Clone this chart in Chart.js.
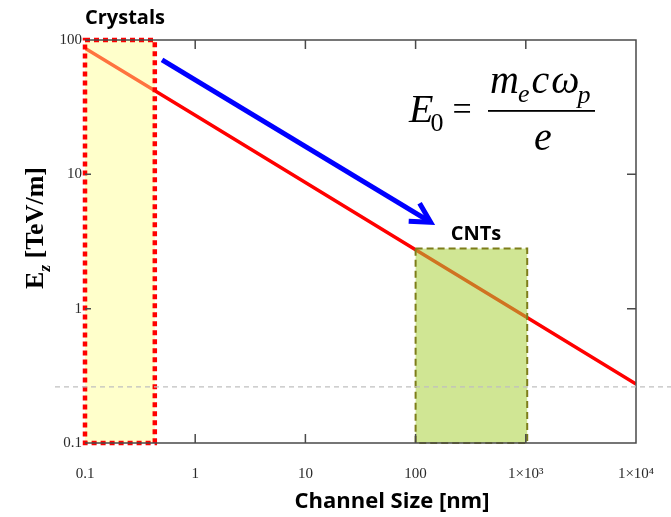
<!DOCTYPE html>
<html>
<head>
<meta charset="utf-8">
<script src="https://cdn.jsdelivr.net/npm/chart.js@4"></script>
<style>
  html, body { margin: 0; padding: 0; background: #fff; }
  #wrap { width: 671px; height: 517px; }
</style>
</head>
<body>
<div id="wrap"><canvas id="fieldChart"></canvas></div>
<script>
// channel size (nm) vs accelerating field Ez (TeV/m)
var channelSize = [0.1, 1, 10, 100, 1000, 10000];
var fieldTeV = [87, 27.5, 8.7, 2.75, 0.87, 0.275];

var xTicks = [0.1, 1, 10, 100, 1000, 10000];
var yTicks = [0.1, 1, 10, 100];

// highlighted regions [xFrom, xTo, yTop]
var crystalsBox = [0.1, 0.43, 100];
var cntBox = [100, 1030, 2.8];

// arrow start / end in data units
var arrowFrom = [0.5, 71];
var arrowTo = [137, 4.4];

var refLevel = 0.262;

var serif = '"Liberation Serif", "DejaVu Serif", serif';
var sans = '"Open Sans", "Liberation Sans", sans-serif';

function xLabel(v) {
  if (v == 1000) return '1×10³';
  if (v == 10000) return '1×10⁴';
  return String(v);
}

// draw text pieces one after another, returns end x
function run(ctx, parts, x) {
  parts.forEach(function (p) {
    ctx.font = p.font;
    ctx.fillText(p.t, x + (p.dx || 0), p.y);
    x += ctx.measureText(p.t).width + (p.dx || 0);
  });
  return x;
}

const decorPlugin = {
  id: 'decor',
  afterDatasetsDraw(chart) {
    const ctx = chart.ctx;
    const xs = chart.scales.x, ys = chart.scales.y;
    const a = chart.chartArea;

    // CNTs region
    let x1 = xs.getPixelForValue(cntBox[0]), x2 = xs.getPixelForValue(cntBox[1]);
    let yt = ys.getPixelForValue(cntBox[2]);
    ctx.save();
    ctx.fillStyle = 'rgba(170,210,60,0.55)';
    ctx.fillRect(x1, yt, x2 - x1, a.bottom - yt);
    ctx.strokeStyle = '#7d7d1a';
    ctx.lineWidth = 2;
    ctx.setLineDash([7, 4]);
    ctx.strokeRect(x1, yt, x2 - x1, a.bottom - yt);
    ctx.restore();

    // Crystals region
    x1 = xs.getPixelForValue(crystalsBox[0]); x2 = xs.getPixelForValue(crystalsBox[1]);
    yt = ys.getPixelForValue(crystalsBox[2]);
    ctx.save();
    ctx.fillStyle = 'rgba(255,255,140,0.45)';
    ctx.fillRect(x1, yt, x2 - x1, a.bottom - yt);
    ctx.strokeStyle = '#ff0000';
    ctx.lineWidth = 4.5;
    ctx.setLineDash([5, 4]);
    ctx.strokeRect(x1, yt, x2 - x1, a.bottom - yt);
    ctx.restore();

    // blue arrow
    const ax1 = xs.getPixelForValue(arrowFrom[0]), ay1 = ys.getPixelForValue(arrowFrom[1]);
    const ax2 = xs.getPixelForValue(arrowTo[0]), ay2 = ys.getPixelForValue(arrowTo[1]);
    const ang = Math.atan2(ay2 - ay1, ax2 - ax1);
    ctx.save();
    ctx.strokeStyle = '#0000ff';
    ctx.lineWidth = 5;
    ctx.beginPath();
    ctx.moveTo(ax1, ay1);
    ctx.lineTo(ax2 - 2 * Math.cos(ang), ay2 - 2 * Math.sin(ang));
    ctx.stroke();
    ctx.beginPath();
    ctx.moveTo(ax2 - 22 * Math.cos(ang - 0.5), ay2 - 22 * Math.sin(ang - 0.5));
    ctx.lineTo(ax2, ay2);
    ctx.lineTo(ax2 - 22 * Math.cos(ang + 0.5), ay2 - 22 * Math.sin(ang + 0.5));
    ctx.stroke();
    ctx.restore();
  },
  afterDraw(chart) {
    const ctx = chart.ctx;
    const xs = chart.scales.x, ys = chart.scales.y;
    const a = chart.chartArea;

    // frame + inner ticks
    ctx.save();
    ctx.strokeStyle = '#4a4a4a';
    ctx.lineWidth = 1.5;
    ctx.beginPath();
    ctx.moveTo(a.left, a.top); ctx.lineTo(a.right, a.top);
    ctx.lineTo(a.right, a.bottom); ctx.lineTo(a.left, a.bottom);
    ctx.stroke();
    ctx.beginPath();
    xTicks.slice(1, -1).forEach(function (v) {
      const px = xs.getPixelForValue(v);
      ctx.moveTo(px, a.bottom); ctx.lineTo(px, a.bottom - 9);
      ctx.moveTo(px, a.top); ctx.lineTo(px, a.top + 9);
    });
    yTicks.slice(1, -1).forEach(function (v) {
      const py = ys.getPixelForValue(v);
      ctx.moveTo(a.right, py); ctx.lineTo(a.right - 9, py);
      ctx.moveTo(a.left, py); ctx.lineTo(a.left + 6, py);
    });
    ctx.stroke();

    // reference level dashed line
    const ry = ys.getPixelForValue(refLevel);
    ctx.strokeStyle = '#c0c0c0';
    ctx.lineWidth = 1.2;
    ctx.setLineDash([5, 4]);
    ctx.beginPath();
    ctx.moveTo(55, ry); ctx.lineTo(671, ry);
    ctx.stroke();
    ctx.setLineDash([]);

    // labels
    ctx.fillStyle = '#000';
    ctx.textBaseline = 'alphabetic';
    ctx.textAlign = 'center';
    ctx.font = 'bold 20px ' + sans;
    ctx.fillText('Crystals', 125, 24);
    ctx.fillText('CNTs', 476, 240);
    ctx.font = 'bold 22px ' + sans;
    ctx.fillText('Channel Size [nm]', 392, 508);

    // y axis title
    ctx.save();
    ctx.translate(43, 228);
    ctx.rotate(-Math.PI / 2);
    ctx.textAlign = 'left';
    const big = 'bold 26px ' + serif, sub = 'bold italic 17px ' + serif;
    ctx.font = big;
    const wE = ctx.measureText('E').width, wR = ctx.measureText(' [TeV/m]').width;
    ctx.font = sub;
    const wz = ctx.measureText('z').width;
    run(ctx, [
      { t: 'E', font: big, y: 0 },
      { t: 'z', font: sub, y: 7 },
      { t: ' [TeV/m]', font: big, y: 0 }
    ], -(wE + wz + wR) / 2);
    ctx.restore();

    // formula E0 = me c wp / e
    ctx.textAlign = 'left';
    const it = 'italic 40px ' + serif, itSub = 'italic 26px ' + serif;
    run(ctx, [
      { t: 'E', font: it, y: 122 },
      { t: '0', font: '26px ' + serif, y: 131, dx: -3 },
      { t: '=', font: '34px ' + serif, y: 120, dx: 9 }
    ], 409);
    ctx.fillRect(488, 110, 107, 1.8);
    run(ctx, [
      { t: 'm', font: it, y: 93 },
      { t: 'e', font: itSub, y: 102, dx: -1 },
      { t: 'c', font: it, y: 93, dx: 2 },
      { t: 'ω', font: it, y: 93, dx: 2 },
      { t: 'p', font: itSub, y: 103, dx: -2 }
    ], 490);
    ctx.font = it;
    ctx.fillText('e', 534, 150);
    ctx.restore();
  }
};

const cfg = {
  type: 'line',
  data: {
    datasets: [{
      data: channelSize.map(function (c, i) { return { x: c, y: fieldTeV[i] }; }),
      borderColor: '#ff0000',
      borderWidth: 3.5,
      pointRadius: 0,
      fill: false,
      tension: 0
    }]
  },
  options: {
    responsive: false,
    animation: false,
    devicePixelRatio: 1,
    layout: { padding: { left: 0, right: 35, top: 40, bottom: 0 } },
    plugins: {
      legend: { display: false },
      tooltip: { enabled: false }
    },
    scales: {
      x: {
        type: 'logarithmic',
        min: 0.1,
        max: 10000,
        afterBuildTicks: function (s) { s.ticks = xTicks.map(function (v) { return { value: v }; }); },
        afterFit: function (s) { s.height = 74; s.paddingLeft = 0; s.paddingRight = 0; },
        grid: { display: false },
        border: { display: false },
        ticks: {
          padding: 14,
          maxRotation: 0,
          autoSkip: false,
          color: '#2a2a2a',
          font: { family: serif, size: 15 },
          callback: function (v) { return xLabel(v); }
        }
      },
      y: {
        type: 'logarithmic',
        min: 0.1,
        max: 100,
        afterBuildTicks: function (s) { s.ticks = yTicks.map(function (v) { return { value: v }; }); },
        afterFit: function (s) { s.width = 85; s.paddingTop = 0; s.paddingBottom = 0; },
        grid: { display: false },
        border: { display: false },
        ticks: {
          padding: -5,
          autoSkip: false,
          color: '#2a2a2a',
          font: { family: serif, size: 15 },
          callback: function (v) { return String(v); }
        }
      }
    }
  },
  plugins: [decorPlugin]
};

const canvas = document.getElementById('fieldChart');
canvas.width = 671;
canvas.height = 517;
const fieldChart = new Chart(canvas.getContext('2d'), cfg);
</script>
</body>
</html>
